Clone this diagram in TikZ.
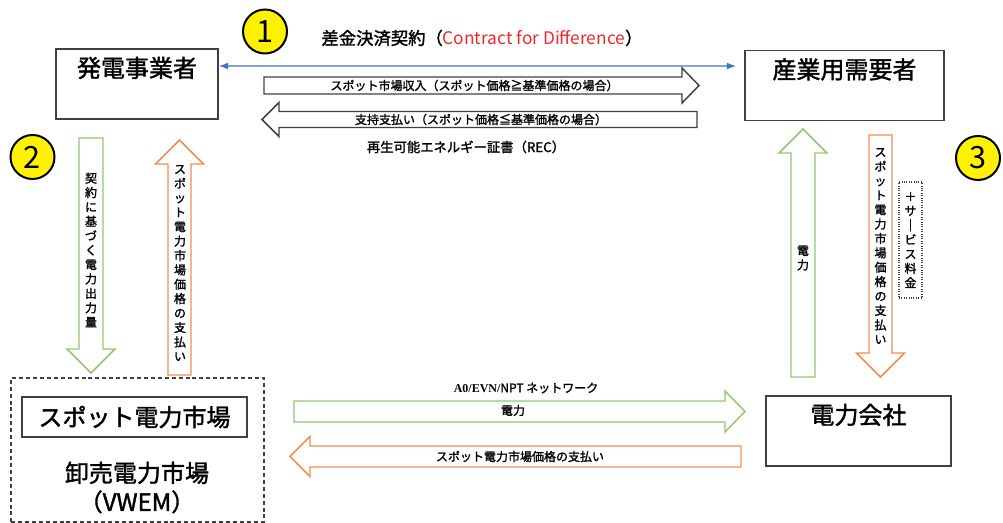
\documentclass[tikz,border=0pt]{standalone}
\usepackage{fontspec}
\setmainfont{Noto Sans CJK JP}[BoldFont={Noto Sans CJK JP}, BoldFeatures={FakeBold=1.6}]
\newfontfamily\latinserif{Liberation Serif}
\usetikzlibrary{arrows.meta}
\definecolor{pwgreen}{RGB}{146,199,112}
\definecolor{payorange}{RGB}{242,140,80}
\definecolor{cfdblue}{RGB}{68,114,196}
\definecolor{cfdred}{RGB}{240,40,40}
\definecolor{boxgray}{RGB}{64,64,64}
\tikzset{
  partybox/.style={draw=boxgray, line width=1.1pt, inner sep=0pt, minimum width=#1,
    minimum height=52.5pt, text height=21pt, text depth=31.5pt,
    font=\fontsize{18}{18}\selectfont\bfseries},
  numcircle/.style={circle, draw, line width=1.5pt, fill=yellow, minimum size=33pt,
    inner sep=0pt, font=\fontsize{23}{23}\selectfont},
  flowtext/.style={inner sep=0pt, font=\fontsize{9}{9}\selectfont\bfseries},
  vtext/.style={align=center, inner sep=0pt, font=\fontsize{9}{10.8}\selectfont\bfseries}
}
% block arrows: [style]{tail}{head base}{tip}{centre}{half body}{half head}
\newcommand{\flowarrowh}[7][]{%
  \draw[#1] (#2,{#5-#6}) -- (#3,{#5-#6}) -- (#3,{#5-#7}) -- (#4,#5) -- (#3,{#5+#7})
    -- (#3,{#5+#6}) -- (#2,{#5+#6}) -- cycle;}
\newcommand{\flowarrowv}[7][]{%
  \draw[#1] ({#5-#6},#2) -- ({#5-#6},#3) -- ({#5-#7},#3) -- (#5,#4) -- ({#5+#7},#3)
    -- ({#5+#6},#3) -- ({#5+#6},#2) -- cycle;}

\begin{document}
\begin{tikzpicture}[x=0.75pt, y=-0.75pt]
    \useasboundingbox (0,0) rectangle (1003,523);

    % Parties
    \node[partybox=121.5pt] (gen) at (137,84) {発電事業者};
    \node[partybox=149.25pt] (ind) at (844.5,85.5) {産業用需要者};
    \node[partybox=138.75pt] (epc) at (858.5,431) {電力会社};
    \node[draw=boxgray, dashed, dash pattern=on 3pt off 2.2pt, line width=0.9pt, inner sep=0pt,
      minimum width=189.75pt, minimum height=108pt] (wmkt) at (137.5,450) {};
    \node[draw=boxgray, line width=1.1pt, inner sep=0pt, minimum width=168.75pt, minimum height=30pt,
      font=\fontsize{18}{18}\selectfont\bfseries] (spot) at (134.5,417) {スポット電力市場};
    \node[align=center, inner sep=0pt, font=\fontsize{18}{21.75}\selectfont\bfseries] (vwem) at (137,487.5) {卸売電力市場\\（VWEM）};

    % Numbers
    \node[numcircle] (n1) at (265,31.5) {1};
    \node[numcircle] (n2) at (32.5,157) {2};
    \node[numcircle] (n3) at (978,158) {3};

    % (1) contract for difference
    \node[inner sep=0pt, font=\fontsize{13}{13}\selectfont\bfseries] (cfd) at (482,38)
      {差金決済契約（\textcolor{cfdred}{\mdseries Contract for Difference}）};
    \draw[cfdblue, line width=0.9pt, {Latex[length=7pt,width=5pt]}-{Latex[length=7pt,width=5pt]}, shorten >=6pt]
      ([yshift=13.5pt]gen.east) -- ([yshift=14.6pt]ind.west);
    \flowarrowh[draw=boxgray, line width=1.1pt]{264}{682}{699}{85.5}{8.5}{17.5}
    \node[flowtext] (rev) at (474.5,85.5) {スポット市場収入（スポット価格≧基準価格の場合）};
    \flowarrowh[draw=boxgray, line width=1.1pt]{697}{279}{262}{119.5}{8}{17}
    \node[flowtext] (sup) at (481,119.5) {支持支払い（スポット価格≦基準価格の場合）};
    \node[inner sep=0pt, font=\fontsize{10}{10}\selectfont\bfseries] (rec) at (466,147) {再生可能エネルギー証書（REC）};

    % (2) generator and spot market
    \flowarrowv[draw=pwgreen, line width=1.1pt]{138}{349}{373}{91}{12}{24}
    \node[vtext] (gout) at (91,250) {契\\約\\に\\基\\づ\\く\\電\\力\\出\\力\\量};
    \flowarrowv[draw=payorange, line width=1.1pt]{375}{164}{140}{179.5}{11.5}{24}
    \node[vtext] (gpay) at (180,263) {ス\\ポ\\ッ\\ト\\電\\力\\市\\場\\価\\格\\の\\支\\払\\い};

    % network between market and power company
    \node[flowtext] (net) at (526,388) {{\latinserif A0/EVN/}NPT ネットワーク};
    \flowarrowh[draw=pwgreen, line width=1.1pt]{294}{725}{745}{411.5}{10.5}{20.5}
    \node[flowtext] (npw) at (513,410.5) {電力};
    \flowarrowh[draw=payorange, line width=1.1pt]{741}{310}{290}{456.5}{10.5}{20}
    \node[flowtext] (npay) at (520,456.5) {スポット電力市場価格の支払い};

    % (3) power company and industrial user
    \flowarrowv[draw=pwgreen, line width=1.1pt]{377}{153}{129}{803}{12}{24}
    \node[vtext] (upw) at (803,258) {電\\力};
    \flowarrowv[draw=payorange, line width=1.1pt]{135}{353}{377}{880.5}{11.5}{24}
    \node[vtext] (upay) at (880.5,246) {ス\\ポ\\ッ\\ト\\電\\力\\市\\場\\価\\格\\の\\支\\払\\い};
    \node[vtext, draw=boxgray, densely dotted, line width=0.8pt, minimum width=17.25pt, minimum height=87pt]
      (svc) at (910.5,240) {＋\\サ\\｜\\ビ\\ス\\料\\金};

\end{tikzpicture}
\end{document}
